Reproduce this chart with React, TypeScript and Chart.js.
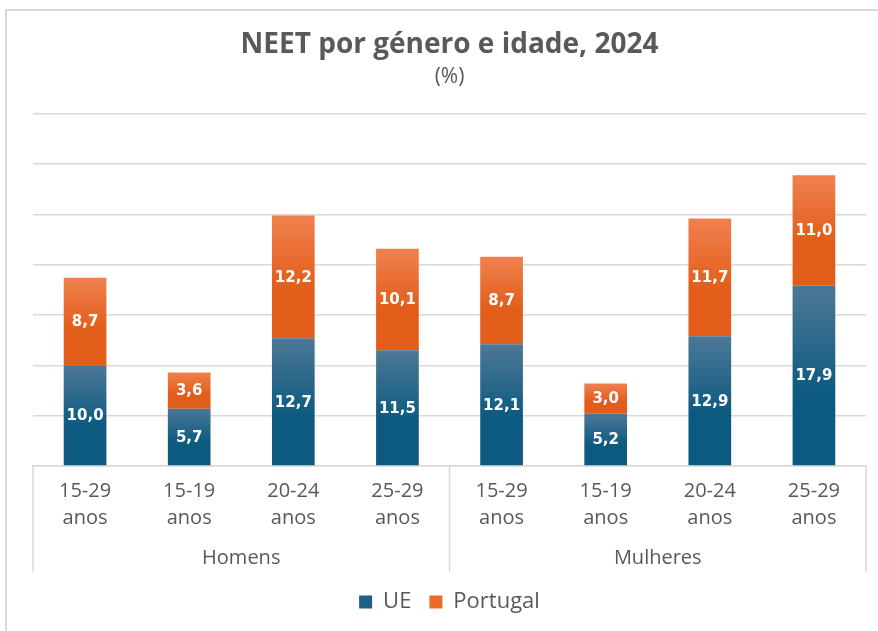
import React, { useEffect, useRef } from 'react';
import { Chart, registerables } from 'chart.js';

Chart.register(...registerables);

const categories: string[][] = [
  ['15-29', 'anos'], ['15-19', 'anos'], ['20-24', 'anos'], ['25-29', 'anos'],
  ['15-29', 'anos'], ['15-19', 'anos'], ['20-24', 'anos'], ['25-29', 'anos'],
];
const groups = ['Homens', 'Mulheres'];
const groupSizes = [4, 4];
const ueValues = [10.0, 5.7, 12.7, 11.5, 12.1, 5.2, 12.9, 17.9];
const ptValues = [8.7, 3.6, 12.2, 10.1, 8.7, 3.0, 11.7, 11.0];
const seriesNames = ['UE', 'Portugal'];

const GRID = '#d9d9d9';
const TXT = '#595959';

const fmt = (v: number) => v.toFixed(1).replace('.', ',');

function makeGradient(ctx: any, dsIndex: number) {
  const chart = ctx.chart;
  const light = dsIndex === 0 ? '#4d7896' : '#ef814f';
  const dark = dsIndex === 0 ? '#0c5a80' : '#e35d1a';
  if (!chart.chartArea || ctx.type !== 'data') return dark;
  const y = chart.scales.y;
  const i = ctx.dataIndex;
  const base = dsIndex === 0 ? 0 : ueValues[i];
  const top = base + (dsIndex === 0 ? ueValues[i] : ptValues[i]);
  const yTop = y.getPixelForValue(top);
  const yBot = y.getPixelForValue(base);
  const g = chart.ctx.createLinearGradient(0, yTop, 0, yBot);
  g.addColorStop(0, light);
  g.addColorStop(0.6, dark);
  g.addColorStop(1, dark);
  return g;
}

const framePlugin = {
  id: 'frame',
  beforeDraw(chart: any) {
    const c = chart.ctx;
    c.save();
    c.fillStyle = '#ffffff';
    c.fillRect(0, 0, chart.width, chart.height);
    c.strokeStyle = GRID;
    c.lineWidth = 2;
    c.beginPath();
    c.moveTo(6, chart.height);
    c.lineTo(6, 10);
    c.lineTo(chart.width, 10);
    c.stroke();
    c.restore();
  },
};

const groupPlugin = {
  id: 'groups',
  afterDraw(chart: any) {
    const c = chart.ctx;
    const area = chart.chartArea;
    const bottom = area.bottom + 106;
    c.save();
    c.strokeStyle = GRID;
    c.lineWidth = 1.5;
    const step = (area.right - area.left) / categories.length;
    let idx = 0;
    const bounds: number[] = [area.left];
    groupSizes.forEach((n) => { idx += n; bounds.push(area.left + step * idx); });
    bounds.forEach((bx) => {
      c.beginPath();
      c.moveTo(bx, area.bottom);
      c.lineTo(bx, bottom);
      c.stroke();
    });
    c.fillStyle = TXT;
    c.font = '20px "Open Sans"';
    c.textAlign = 'center';
    c.textBaseline = 'middle';
    groups.forEach((g, gi) => {
      c.fillText(g, (bounds[gi] + bounds[gi + 1]) / 2, area.bottom + 92);
    });
    c.restore();
  },
};

const valueLabelPlugin = {
  id: 'valueLabels',
  afterDatasetsDraw(chart: any) {
    const c = chart.ctx;
    c.save();
    c.fillStyle = '#ffffff';
    c.font = 'bold 15px "DejaVu Sans"';
    c.textAlign = 'center';
    c.textBaseline = 'middle';
    chart.data.datasets.forEach((ds: any, di: number) => {
      const meta = chart.getDatasetMeta(di);
      meta.data.forEach((el: any, i: number) => {
        const v = ds.data[i];
        c.fillText(fmt(v), el.x, (el.y + el.base) / 2 + 1);
      });
    });
    c.restore();
  },
};

export default function App() {
  const ref = useRef<HTMLCanvasElement>(null);
  useEffect(() => {
    if (!ref.current) return;
    const chart = new Chart(ref.current, {
      type: 'bar',
      data: {
        labels: categories,
        datasets: [
          {
            label: seriesNames[0],
            data: ueValues,
            backgroundColor: (ctx: any) => makeGradient(ctx, 0),
            barPercentage: 0.41,
            categoryPercentage: 1,
          },
          {
            label: seriesNames[1],
            data: ptValues,
            backgroundColor: (ctx: any) => makeGradient(ctx, 1),
            barPercentage: 0.41,
            categoryPercentage: 1,
          },
        ],
      },
      options: {
        responsive: false,
        animation: false,
        layout: { padding: { left: 33, right: 12, top: 0, bottom: 8 } },
        scales: {
          x: {
            stacked: true,
            grid: { display: false, drawTicks: false },
            border: { display: true, color: GRID, width: 1.5 },
            ticks: {
              color: TXT,
              font: { family: 'Open Sans', size: 20, lineHeight: 1.35 },
              padding: 12,
              maxRotation: 0,
              autoSkip: false,
            },
            afterFit: (scale: any) => { scale.height = 107; },
          },
          y: {
            stacked: true,
            min: 0,
            max: 35,
            ticks: { display: false, stepSize: 5 },
            grid: { color: GRID, lineWidth: 1.5, drawTicks: false },
            border: { display: false },
          },
        },
        plugins: {
          title: {
            display: true,
            text: 'NEET por género e idade, 2024',
            color: TXT,
            font: { family: 'Open Sans', size: 28, weight: 'bold' },
            padding: { top: 28, bottom: 3 },
          },
          subtitle: {
            display: true,
            text: '(%)',
            color: TXT,
            font: { family: 'Open Sans', size: 21 },
            padding: { top: 0, bottom: 24 },
          },
          legend: {
            position: 'bottom',
            labels: {
              color: TXT,
              font: { family: 'Open Sans', size: 22 },
              boxWidth: 13,
              boxHeight: 13,
              padding: 18,
              generateLabels: () => [
                { text: seriesNames[0], fillStyle: '#1f5f86', strokeStyle: '#1f5f86', lineWidth: 0, datasetIndex: 0, fontColor: TXT },
                { text: seriesNames[1], fillStyle: '#ee6a2a', strokeStyle: '#ee6a2a', lineWidth: 0, datasetIndex: 1, fontColor: TXT },
              ],
            },
          },
          tooltip: { enabled: false },
        },
      },
      plugins: [framePlugin, groupPlugin, valueLabelPlugin],
    });
    return () => chart.destroy();
  }, []);
  return (
    <div style={{ position: 'fixed', left: 0, top: 0, width: 878, height: 631, background: '#fff' }}>
      <canvas ref={ref} width={878} height={631} />
    </div>
  );
}
